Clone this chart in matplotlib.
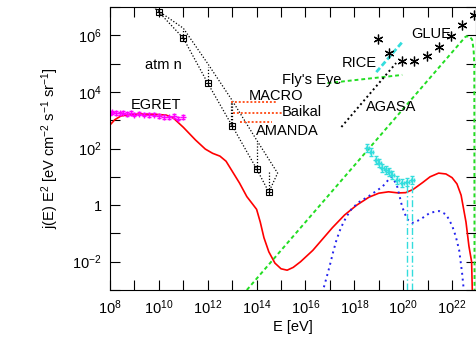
import numpy as np
import matplotlib
matplotlib.use("Agg")
import matplotlib.pyplot as plt
from matplotlib.ticker import FixedLocator, FuncFormatter, NullLocator

plt.rcParams["font.family"] = ["Liberation Sans", "DejaVu Sans"]
plt.rcParams["mathtext.fontset"] = "custom"
plt.rcParams["mathtext.rm"] = "Liberation Sans"
plt.rcParams["mathtext.it"] = "Liberation Sans:italic"
plt.rcParams["font.size"] = 10

# --- data (log10 E [eV], log10 flux) ---
red_logE = [8.0, 8.2, 8.45, 8.8, 9.3, 9.8, 10.3, 10.6, 11.0, 11.5, 11.9, 12.2, 12.5,
            12.75, 13.0, 13.3, 13.6, 13.85, 14.0, 14.15, 14.3, 14.5, 14.75, 15.0,
            15.25, 15.5, 15.8, 16.3, 16.7, 17.1, 17.6, 18.1, 18.6, 19.0, 19.4, 19.8,
            20.1, 20.4, 20.8, 21.1, 21.45, 21.75, 22.0, 22.2, 22.37, 22.57, 22.69,
            22.8, 22.83]
red_logF = [2.83, 3.02, 3.15, 3.2, 3.22, 3.21, 3.18, 3.07, 2.75, 2.3, 1.98, 1.83, 1.73,
            1.55, 1.2, 0.78, 0.3, 0.02, -0.15, -0.6, -1.15, -1.65, -2.05, -2.25,
            -2.3, -2.2, -2.0, -1.6, -1.2, -0.8, -0.35, 0.0, 0.28, 0.42, 0.47, 0.43,
            0.44, 0.55, 0.8, 1.0, 1.13, 1.1, 0.97, 0.75, 0.35, -0.6, -1.45,
            -2.0, -3.1]

blue_logE = [16.69, 16.85, 16.98, 17.12, 17.27, 17.45, 17.67, 17.9, 18.2, 18.6, 18.9,
             19.15, 19.35, 19.5, 19.62, 19.76, 19.96, 20.16, 20.37, 20.6, 20.78, 21.1,
             21.47, 21.76, 22.0, 22.15, 22.29, 22.41, 22.49]
blue_logF = [-3.1, -2.6, -2.19, -1.7, -1.23, -0.8, -0.42, -0.12, 0.11, 0.32, 0.5,
             0.65, 0.85, 1.0, 0.9, 0.64, -0.07, -0.5, -0.63, -0.55, -0.46, -0.27,
             -0.21, -0.33, -0.72, -1.1, -1.59, -2.4, -3.1]

green_logE = [13.6, 22.4, 22.55, 22.7, 22.82, 22.88, 22.91, 22.92]
green_logF = [-3.0, 5.8, 5.95, 5.97, 5.85, 5.5, 5.0, -3.1]

egret_logE = [8.0, 8.1, 8.25, 8.4, 8.55, 8.7, 8.85, 9.0, 9.2, 9.4, 9.6, 9.8, 10.0,
              10.2, 10.4, 10.6, 10.8, 11.0]
egret_logF = [3.25, 3.28, 3.26, 3.24, 3.27, 3.22, 3.25, 3.2, 3.23, 3.2, 3.18, 3.2,
              3.15, 3.12, 3.1, 3.15, 3.05, 3.12]

atm_logE = [10.0, 11.0, 12.0, 13.0, 14.0, 14.5]
atm_logF = [6.82, 5.9, 4.31, 2.8, 1.28, 0.46]
atm_top = [6.85, 6.19, 4.88, 3.61, 2.19, 1.17]
atm_hi_logE = [9.75, 10.0, 11.0, 12.0, 13.0, 14.0, 14.86, 14.5]
atm_hi_logF = [7.0, 6.85, 6.25, 5.0, 3.7, 2.3, 1.13, 0.46]
atm_lo_logE = [9.8, 10.0]
atm_lo_logF = [7.0, 6.82]

limits = {"MACRO": (12.94, 14.82, 3.64),
          "Baikal": (13.02, 15.02, 3.25),
          "AMANDA": (13.31, 14.65, 2.94)}

cyan_logE = [18.53, 18.69, 18.9, 19.02, 19.14, 19.31, 19.43, 19.55, 19.76, 19.96,
             20.16, 20.37]
cyan_logF = [2.02, 1.88, 1.59, 1.49, 1.31, 1.24, 1.17, 1.06, 0.89, 0.78, 0.82, 0.89]
cyan_drop_logE = [20.16, 20.37]

rice_logE = [18.9, 19.96]
rice_logF = [4.70, 5.76]
flyseye_logE = [16.9, 19.96]
flyseye_logF = [4.31, 4.60]
agasa_logE = [17.47, 19.71]
agasa_logF = [2.76, 5.02]

glue_logE = [18.98, 19.43, 19.96, 20.45, 20.98, 21.47, 21.96, 22.41, 22.9]
glue_logF = [5.87, 5.37, 5.09, 5.09, 5.27, 5.59, 5.98, 6.36, 6.72]

labels = [("atm n", 9.45, 4.95), ("EGRET", 8.85, 3.55), ("MACRO", 13.68, 3.87),
          ("Baikal", 15.02, 3.3), ("AMANDA", 13.96, 2.62), ("Fly's Eye", 15.06, 4.43),
          ("RICE", 17.47, 5.03), ("AGASA", 18.49, 3.48), ("GLUE", 20.33, 6.06)]


def p(a):
    return 10.0 ** np.asarray(a, dtype=float)


fig = plt.figure(figsize=(4.77, 3.38), dpi=100)
ax = fig.add_axes([110 / 477, 1 - 290 / 338, 366.5 / 477, 283 / 338])
ax.set_xscale("log")
ax.set_yscale("log")

ax.plot(p(red_logE), p(red_logF), color="#ff0000", lw=1.2)
ax.plot(p(blue_logE), p(blue_logF), color="#2222ee", lw=1.4, ls=(0, (1, 2)))
ax.plot(p(green_logE), p(green_logF), color="#22dd22", lw=1.4, ls=(0, (2, 1.5)))

ax.errorbar(p(egret_logE), p(egret_logF),
            yerr=[p(egret_logF) * (1 - 10 ** -0.06), p(egret_logF) * (10 ** 0.06 - 1)],
            fmt="+", color="#ff00ff", ms=4, lw=0.8, capsize=1.5)

# atmospheric neutrinos band
ax.plot(p(atm_hi_logE), p(atm_hi_logF), color="black", lw=0.9, ls=(0, (1, 1.5)))
ax.plot(p(atm_lo_logE + atm_logE), p(atm_lo_logF + atm_logF), color="black", lw=0.9,
        ls=(0, (1, 1.5)))
ax.vlines(p(atm_logE[1:]), p(atm_logF[1:]), p(atm_top[1:]), color="black", lw=0.9,
          ls=(0, (1, 1.5)))
ax.plot(p(atm_logE), p(atm_logF), ls="none", marker="s", ms=5, mfc="none",
        mec="black", mew=0.8)
ax.plot(p(atm_logE), p(atm_logF), ls="none", marker="+", ms=4, color="black", mew=0.8)

for name, (e0, e1, f) in limits.items():
    ax.plot([10 ** e0, 10 ** e1], [10 ** f, 10 ** f], color="#ff5522", lw=1.4,
            ls=(0, (1, 1)))
ax.vlines(10 ** limits["MACRO"][0], 10 ** atm_logF[3], 10 ** limits["MACRO"][2],
          color="black", lw=0.9, ls=(0, (1, 1.5)))

ax.errorbar(p(cyan_logE), p(cyan_logF),
            xerr=[p(cyan_logE) * (1 - 10 ** -0.06), p(cyan_logE) * (10 ** 0.06 - 1)],
            yerr=[p(cyan_logF) * (1 - 10 ** -0.15), p(cyan_logF) * (10 ** 0.15 - 1)],
            fmt="+", color="#33dddd", ms=4, lw=0.9, capsize=1.5)
ax.vlines(p(cyan_drop_logE), 1e-3, p([0.7, 0.75]), color="#33dddd", lw=1.0,
          ls=(0, (5, 2, 1, 2)))

ax.plot(p(rice_logE), p(rice_logF), color="#33dddd", lw=2.0, ls=(0, (2, 1)))
ax.plot(p(flyseye_logE), p(flyseye_logF), color="#22dd22", lw=1.4, ls=(0, (2, 1.5)))
ax.plot(p(agasa_logE), p(agasa_logF), color="black", lw=1.4, ls=(0, (1, 1.5)))
ax.plot(p(glue_logE), p(glue_logF), ls="none", marker=(6, 2, 0), ms=7, color="black",
        mew=0.9)

for txt, le, lf in labels:
    ax.text(10 ** le, 10 ** lf, txt, ha="left", va="center", fontsize=10.5)

ax.set_xlim(1e8, 1e23)
ax.set_ylim(1e-3, 1e7)

ax.xaxis.set_major_locator(FixedLocator(p(np.arange(8, 24))))
ax.yaxis.set_major_locator(FixedLocator(p(np.arange(-3, 8))))
ax.xaxis.set_minor_locator(NullLocator())
ax.yaxis.set_minor_locator(NullLocator())


def fmt(v, pos):
    k = int(round(np.log10(v)))
    if k % 2:
        return ""
    if k == 0:
        return "1"
    return r"$10^{%d}$" % k


ax.xaxis.set_major_formatter(FuncFormatter(fmt))
ax.yaxis.set_major_formatter(FuncFormatter(fmt))
ax.tick_params(which="both", direction="in", top=True, right=True, length=7,
               width=0.8, labelsize=10.5, pad=6)

ax.set_xlabel("E [eV]", fontsize=10.5, labelpad=2)
ax.set_ylabel(r"j(E) E$^2$ [eV cm$^{-2}$ s$^{-1}$ sr$^{-1}$]", fontsize=10.5,
              labelpad=8)
for s in ax.spines.values():
    s.set_linewidth(0.8)

fig.savefig("out.png", dpi=100)
